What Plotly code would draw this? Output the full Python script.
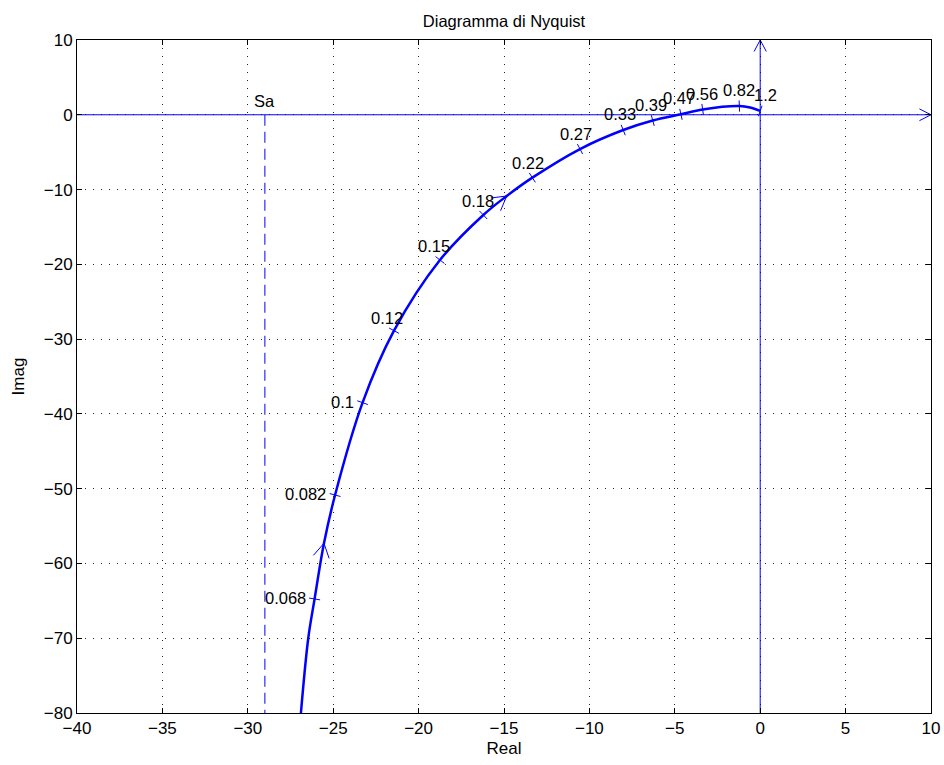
import math
import plotly.graph_objects as go

# ---------------- data ----------------
curve_re = [-26.89, -26.46, -26.09, -25.54, -24.89, -23.28, -21.44, -18.75,
            -16.21, -14.84, -13.34, -10.55, -8.02, -6.29, -4.64, -3.37,
            -1.22, -0.59, 0.0]
curve_im = [-80.0, -70.0, -64.75, -57.30, -50.85, -38.50, -28.87, -19.42,
            -13.40, -10.86, -8.41, -4.58, -2.04, -0.77, 0.06, 0.71,
            1.17, 0.97, 0.51]
freq_labels = [None, None, "0.068", None, "0.082", "0.1", "0.12", "0.15",
               "0.18", None, "0.22", "0.27", "0.33", "0.39", "0.47", "0.56",
               "0.82", None, "1.2"]
arrow_idx = [3, 9]          # points of the curve where direction arrows sit
sa_re = -29.0               # vertical asymptote "Sa"
sa_label = "Sa"

x_ticks = [-40, -35, -30, -25, -20, -15, -10, -5, 0, 5, 10]
y_ticks = [-80, -70, -60, -50, -40, -30, -20, -10, 0, 10]

# ---------------- layout constants ----------------
W, H = 944, 765
ML, MR, MT, MB = 77, 13, 40, 52
XR = [x_ticks[0], x_ticks[-1]]
YR = [y_ticks[0], y_ticks[-1]]
KX = (W - ML - MR) / (XR[1] - XR[0])   # px per unit
KY = (H - MT - MB) / (YR[1] - YR[0])
BLUE = "#0000ff"
FONT = "Liberation Sans, Arial, Helvetica, sans-serif"


def tangent_px(i):
    """tangent at curve point i in screen px (x right, y down)"""
    a = max(i - 1, 0)
    b = min(i + 1, len(curve_re) - 1)
    tx = (curve_re[b] - curve_re[a]) * KX
    ty = -(curve_im[b] - curve_im[a]) * KY
    n = math.hypot(tx, ty)
    return tx / n, ty / n


def chevron(x0, y0, ux, uy, length, half_deg):
    """arms of an open arrowhead with tip (x0,y0), pointing along screen unit (ux,uy)"""
    xs, ys = [], []
    h = math.radians(half_deg)
    for s in (1, -1):
        c, sn = math.cos(s * h), math.sin(s * h)
        bx, by = -ux, -uy
        rx, ry = bx * c - by * sn, bx * sn + by * c
        xs.append(x0 + rx * length / KX)
        ys.append(y0 - ry * length / KY)
    return [xs[0], x0, xs[1], None], [ys[0], y0, ys[1], None]


fig = go.Figure()

# axes lines through origin
fig.add_trace(go.Scatter(x=[XR[0], XR[1]], y=[0, 0], mode="lines",
                         line=dict(color=BLUE, width=1), hoverinfo="skip", showlegend=False))
fig.add_trace(go.Scatter(x=[0, 0], y=[YR[0], YR[1]], mode="lines",
                         line=dict(color=BLUE, width=1), hoverinfo="skip", showlegend=False))
ax_x, ax_y = chevron(XR[1], 0, 1, 0, 13, 27)
ay_x, ay_y = chevron(0, YR[1], 0, -1, 13, 28)
fig.add_trace(go.Scatter(x=ax_x + ay_x, y=ax_y + ay_y, mode="lines",
                         line=dict(color=BLUE, width=1), hoverinfo="skip", showlegend=False))

# Sa dashed line
fig.add_trace(go.Scatter(x=[sa_re, sa_re], y=[0, YR[0]], mode="lines",
                         line=dict(color=BLUE, width=1, dash="11px,6px"),
                         hoverinfo="skip", showlegend=False))

# Nyquist curve
fig.add_trace(go.Scatter(x=curve_re, y=curve_im, mode="lines",
                         line=dict(color=BLUE, width=2.5, shape="spline", smoothing=1.0),
                         hoverinfo="skip", showlegend=False))

# direction arrows
arx, ary = [], []
for i in arrow_idx:
    ux, uy = tangent_px(i)
    cx, cy = chevron(curve_re[i], curve_im[i], ux, uy, 16, 30)
    arx += cx
    ary += cy
fig.add_trace(go.Scatter(x=arx, y=ary, mode="lines", line=dict(color=BLUE, width=1),
                         hoverinfo="skip", showlegend=False))

# frequency ticks and labels
tk_x, tk_y, tk_ang = [], [], []
for i, lab in enumerate(freq_labels):
    if lab is None:
        continue
    ux, uy = tangent_px(i)
    tk_x.append(curve_re[i])
    tk_y.append(curve_im[i])
    tk_ang.append(math.degrees(math.atan2(uy, ux)))
    theta = math.degrees(math.atan2(-uy, ux))
    if theta > 65:
        fig.add_annotation(x=curve_re[i], y=curve_im[i], text=lab, showarrow=False,
                           xanchor="right", yanchor="middle", xshift=-7, yshift=1,
                           font=dict(family=FONT, size=16.5, color="black"))
    else:
        th = math.radians(theta)
        k = 8 if theta >= 0 else 16
        fig.add_annotation(x=curve_re[i], y=curve_im[i], text=lab, showarrow=False,
                           xanchor="center", yanchor="middle",
                           xshift=-k * math.sin(th), yshift=10 + 6 * math.cos(th),
                           font=dict(family=FONT, size=16.5, color="black"))
fig.add_trace(go.Scatter(x=tk_x, y=tk_y, mode="markers",
                         marker=dict(symbol="line-ns", size=8, angle=tk_ang,
                                     line=dict(color=BLUE, width=1)),
                         hoverinfo="skip", showlegend=False))

fig.add_annotation(x=sa_re, y=0, text=sa_label, showarrow=False, xanchor="center",
                   yanchor="middle", yshift=14, font=dict(family=FONT, size=16.5, color="black"))

axis_common = dict(showgrid=True, gridcolor="#222222", griddash="1px,7px", gridwidth=1,
                   zeroline=False, showline=True, linecolor="black", linewidth=1,
                   mirror="ticks", ticks="inside", ticklen=5, tickcolor="black",
                   automargin=False,
                   tickfont=dict(family=FONT, size=17, color="black"))
fig.update_xaxes(range=XR, tickvals=x_ticks, title=dict(text="Real", standoff=4,
                 font=dict(family=FONT, size=17, color="black")), **axis_common)
fig.update_yaxes(range=YR, tickvals=y_ticks, title=dict(text="Imag", standoff=14,
                 font=dict(family=FONT, size=17, color="black")), **axis_common)

fig.update_layout(
    width=W, height=H,
    margin=dict(l=ML, r=MR, t=MT, b=MB),
    plot_bgcolor="white", paper_bgcolor="white",
    title=dict(text="Diagramma di Nyquist", x=0.5, xref="paper", xanchor="center",
               y=1 - 21 / H, yref="container", yanchor="middle",
               font=dict(family=FONT, size=16.5, color="black")),
)

fig.write_html("out.html")
